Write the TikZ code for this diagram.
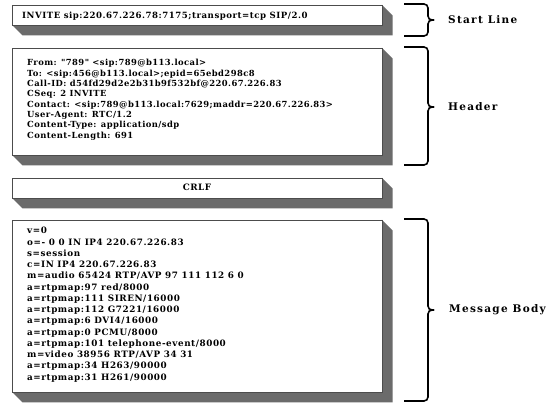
\documentclass[tikz,border=0pt]{standalone}
\usepackage{fontspec}
\setmainfont{DejaVu Serif}
\newfontfamily\hdrfont{DejaVu Serif}[LetterSpace=5]
\newfontfamily\bodyfont{DejaVu Serif}[LetterSpace=6.5]
\newfontfamily\slfont{DejaVu Serif}[LetterSpace=6]
\newfontfamily\lblfont{DejaVu Serif}[LetterSpace=12]
\usetikzlibrary{fit,calc}
\newcommand\sipbox[5]{%
  \fill[shadefill] (#2,#5) -- (#2+10.5,#5+10.5) -- (#4+10.5,#5+10.5) -- (#4+10.5,#3+10.5) -- (#4,#3) -- cycle;
  \node[boxnode, fit={(#2,#3) (#4,#5)}] (#1) {};
}
\newcommand\sipbrace[4]{% top, mid, bottom, name
  \draw[bracestyle] (404,#1) -- (428,#1) -- (428,#2) -- (434,#2);
  \draw[bracestyle] (434,#2) -- (428,#2) -- (428,#3) -- (404,#3);
  \coordinate (#4) at (434,#2);
}
\begin{document}
\begin{tikzpicture}[x=1pt,y=-1pt,
  boxnode/.style={draw=black!70, line width=0.5pt, fill=white, inner sep=0pt, rectangle},
  shadefill/.style={fill=black!58},
  hdrtxt/.style={anchor=base west, inner sep=0pt, font=\hdrfont\fontsize{8.4}{10}\selectfont\bfseries},
  bodytxt/.style={anchor=base west, inner sep=0pt, font=\bodyfont\fontsize{8.8}{10}\selectfont\bfseries},
  bigtxt/.style={anchor=base west, inner sep=0pt, font=\slfont\fontsize{8.6}{10}\selectfont\bfseries},
  lbl/.style={anchor=west, inner sep=0pt, font=\lblfont\fontsize{10.5}{12}\selectfont\bfseries},
  bracestyle/.style={line width=1.6pt, rounded corners=4pt}]
\useasboundingbox[fill=white] (0,0) rectangle (558,403);

\sipbox{start}{12}{5}{382}{25}
\sipbox{header}{12}{48}{382}{155}
\sipbox{crlf}{12}{178}{382}{198}
\sipbox{body}{12}{220}{382}{392}

\node[bigtxt] (sl) at (22,18.5) {INVITE sip:220.67.226.78:7175;transport=tcp SIP/2.0};

\foreach \t [count=\i from 0] in {
  {From: "789" <sip:789@b113.local>},
  {To: <sip:456@b113.local>;epid=65ebd298c8},
  {Call-ID: d54fd29d2e2b31b9f532bf@220.67.226.83},
  {CSeq: 2 INVITE},
  {Contact: <sip:789@b113.local:7629;maddr=220.67.226.83>},
  {User-Agent: RTC/1.2},
  {Content-Type: application/sdp},
  {Content-Length: 691}}
  \node[hdrtxt] (h\i) at (27,65.7+10.35*\i) {\t};

\node[bodytxt, anchor=base] (crlftext) at (197,191) {CRLF};

\foreach \t [count=\i from 0] in {
  {v=0},
  {o=- 0 0 IN IP4 220.67.226.83},
  {s=session},
  {c=IN IP4 220.67.226.83},
  {m=audio 65424 RTP/AVP 97 111 112 6 0},
  {a=rtpmap:97 red/8000},
  {a=rtpmap:111 SIREN/16000},
  {a=rtpmap:112 G7221/16000},
  {a=rtpmap:6 DVI4/16000},
  {a=rtpmap:0 PCMU/8000},
  {a=rtpmap:101 telephone-event/8000},
  {m=video 38956 RTP/AVP 34 31},
  {a=rtpmap:34 H263/90000},
  {a=rtpmap:31 H261/90000}}
  \node[bodytxt] (b\i) at (27,234+11.25*\i) {\t};

\sipbrace{4}{20}{36}{tipA}
\sipbrace{47}{107}{165}{tipB}
\sipbrace{219}{310}{401}{tipC}

\node[lbl] (lA) at (448,20) {Start Line};
\node[lbl] (lB) at (448,107) {Header};
\node[lbl] (lC) at (449,310) {Message Body};
\end{tikzpicture}
\end{document}
